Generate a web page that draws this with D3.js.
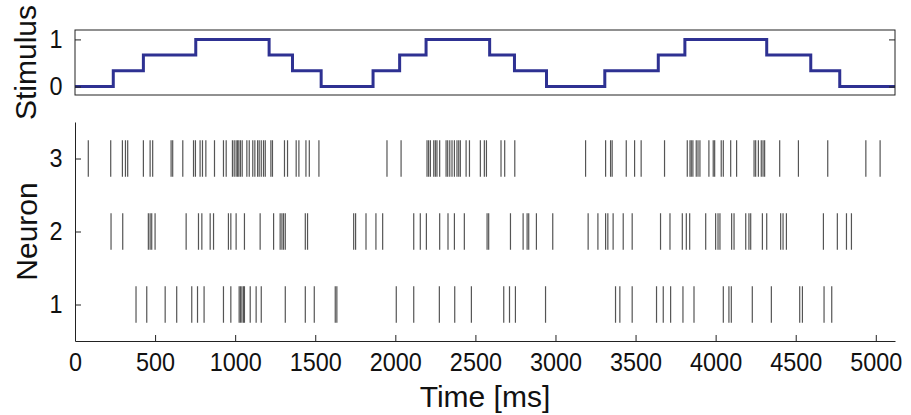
<!DOCTYPE html>
<html>
<head>
<meta charset="UTF-8">
<script src="https://d3js.org/d3.v7.min.js"></script>
<style>
  body { margin: 0; background: #fff; }
  svg { display: block; font-family: "Liberation Sans", Arial, sans-serif; }
  .axis text { font-size: 26px; fill: #111; }
  .axis path, .axis line { stroke: #222; }
  .label { font-size: 30px; fill: #111; text-anchor: middle; }
</style>
</head>
<body>
<svg width="911" height="415"></svg>
<script>
// stimulus: step start times (ms) and level held from that time
const stimTimes = [0, 239, 427, 754, 1212, 1358, 1537, 1861, 2027, 2192, 2589, 2744, 2944, 3308, 3642, 3808, 4319, 4594, 4775, 5120];
const stimLevels = [0, 0.333, 0.667, 1, 0.667, 0.333, 0, 0.333, 0.667, 1, 0.667, 0.333, 0, 0.333, 0.667, 1, 0.667, 0.333, 0, 0];

// spike times (ms) per neuron
const neurons = [1, 2, 3];
const spikes1 = [381, 448, 563, 635, 729, 765, 806, 927, 973, 1025, 1033, 1042, 1052, 1058, 1094, 1131, 1163, 1313, 1438, 1494, 1625, 1635,
  2006, 2115, 2275, 2371, 2475, 2677, 2713, 2750, 2938, 3375, 3402, 3479,
  3631, 3673, 3719, 3796, 3865, 4048, 4083, 4098, 4229, 4348, 4525, 4542, 4677, 4725];
const spikes2 = [225, 298, 458, 469, 479, 500, 694, 771, 792, 844, 865, 958, 973, 1006, 1058, 1156, 1240, 1281, 1292, 1302, 1313, 1438, 1452, 1740, 1752,
  1817, 1879, 1921, 2115, 2156, 2194, 2277, 2329, 2369, 2431, 2573, 2583, 2719, 2798, 2823, 2833, 2881, 2983, 3204, 3265, 3313, 3327, 3360, 3423, 3479,
  3656, 3715, 3792, 3817, 3838, 3938, 4000, 4015, 4027, 4100, 4115, 4188, 4208, 4219, 4292, 4319, 4406, 4421, 4442, 4673, 4760, 4817, 4848];
const spikes3 = [83, 223, 296, 315, 329, 427, 469, 485, 600, 610, 673, 740, 752, 781, 796, 817, 871, 927, 944, 983, 994, 1006, 1015, 1023, 1033, 1044,
  1073, 1088, 1110, 1123, 1140, 1150, 1163, 1177, 1188, 1223, 1233, 1308, 1327, 1381, 1398, 1442, 1463, 1523,
  1948, 2036, 2198, 2208, 2219, 2240, 2250, 2260, 2277, 2317, 2327, 2340, 2354, 2369, 2385, 2396, 2406, 2442, 2463, 2531, 2556, 2569, 2660, 2683, 2746,
  3188, 3313, 3344, 3354, 3442, 3494, 3535,
  3681, 3823, 3840, 3848, 3858, 3879, 3890, 3902, 3958, 3985, 3994, 4035, 4048, 4094, 4131, 4240, 4250, 4267, 4285, 4296, 4306, 4400, 4517, 4700, 4938, 5027];
const spikeTrains = [spikes1, spikes2, spikes3];

const xTicks = d3.range(0, 5001, 500);

const svg = d3.select("svg");
const left = 75, right = 895;
const squeeze = g => g.selectAll("text").attr("transform", "scale(0.9,1)");

const x = d3.scaleLinear().domain([0, 5120]).range([left, right]);

// ---- stimulus panel
const sTop = 30, sBot = 95;
const yS = d3.scaleLinear().domain([-0.18, 1.2]).range([sBot, sTop]);

const stim = svg.append("g");
stim.append("path")
  .datum(stimTimes.map((t, i) => [t, stimLevels[i]]))
  .attr("fill", "none")
  .attr("stroke", "#2e3192")
  .attr("stroke-width", 3)
  .attr("d", d3.line().x(d => x(d[0])).y(d => yS(d[1])).curve(d3.curveStepAfter));

stim.append("rect")
  .attr("x", left).attr("y", sTop)
  .attr("width", right - left).attr("height", sBot - sTop)
  .attr("fill", "none").attr("stroke", "#222").attr("stroke-width", 1);

stim.append("g").attr("class", "axis")
  .attr("transform", `translate(${left},0)`)
  .call(d3.axisLeft(yS).tickValues([0, 1]).tickFormat(d3.format("d")).tickSize(-6).tickSizeOuter(0).tickPadding(14))
  .call(g => g.select(".domain").remove())
  .call(squeeze);
stim.append("g").attr("class", "axis")
  .attr("transform", `translate(${right},0)`)
  .call(d3.axisRight(yS).tickValues([0, 1]).tickFormat("").tickSize(-6).tickSizeOuter(0))
  .call(g => g.select(".domain").remove());

svg.append("text").attr("class", "label")
  .attr("transform", `translate(36,${(sTop + sBot) / 2}) rotate(-90)`)
  .text("Stimulus");

// ---- raster panel
const rTop = 122, rBot = 341;
const yR = d3.scaleLinear().domain([0.5, 3.5]).range([rBot, rTop]);

const raster = svg.append("g");
neurons.forEach((n, i) => {
  raster.append("g").selectAll("line")
    .data(spikeTrains[i])
    .enter().append("line")
    .attr("x1", d => x(d)).attr("x2", d => x(d))
    .attr("y1", yR(n - 0.25)).attr("y2", yR(n + 0.25))
    .attr("stroke", "#555")
    .attr("stroke-width", 1.2);
});

raster.append("g").attr("class", "axis")
  .attr("transform", `translate(0,${rBot})`)
  .call(d3.axisBottom(x).tickValues(xTicks).tickFormat(d3.format("d")).tickSize(-6).tickSizeOuter(0).tickPadding(12))
  .call(squeeze);

raster.append("g").attr("class", "axis")
  .attr("transform", `translate(${left},0)`)
  .call(d3.axisLeft(yR).tickValues(neurons).tickFormat(d3.format("d")).tickSize(-6).tickSizeOuter(0).tickPadding(14))
  .call(squeeze);

svg.append("text").attr("class", "label")
  .attr("transform", `translate(37,${(rTop + rBot) / 2}) rotate(-90)`)
  .text("Neuron");

svg.append("text").attr("class", "label")
  .attr("x", (left + right) / 2).attr("y", 407)
  .text("Time [ms]");
</script>
</body>
</html>
